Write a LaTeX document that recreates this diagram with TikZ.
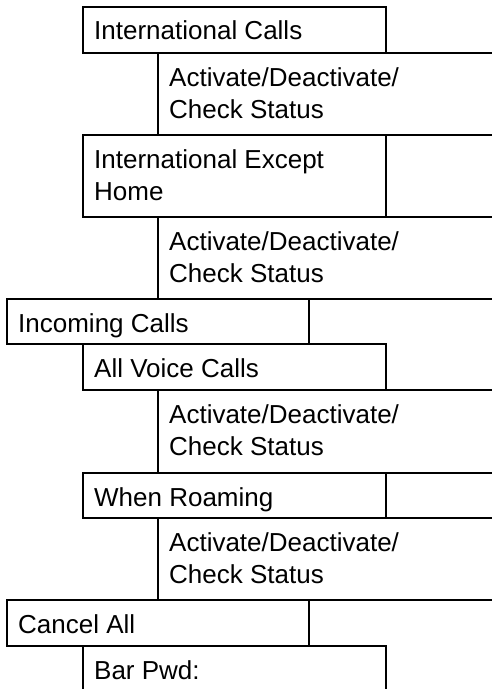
\documentclass[tikz,border=0pt]{standalone}
\usepackage{fontspec}
\setmainfont{Liberation Sans}
\begin{document}
\begin{tikzpicture}[x=1pt,y=-1pt,
  rule/.style={line width=1.1pt,black,line cap=rect},
  cell/.style={anchor=base west,inner sep=0pt,align=left,
    font=\fontsize{26}{32}\selectfont}]
\useasboundingbox (0,0) rectangle (491,689);
% horizontal rules
\draw[rule] (83,7) -- (386,7);
\draw[rule] (83,53) -- (491,53);
\draw[rule] (83,135) -- (491,135);
\draw[rule] (83,217) -- (491,217);
\draw[rule] (7,299) -- (491,299);
\draw[rule] (7,344) -- (386,344);
\draw[rule] (83,390) -- (491,390);
\draw[rule] (83,473) -- (491,473);
\draw[rule] (83,518) -- (491,518);
\draw[rule] (7,600) -- (491,600);
\draw[rule] (7,646) -- (386,646);
% vertical rules
\foreach \a/\b in {7/53,135/217,344/390,473/518,646/689}{
  \draw[rule] (83,\a) -- (83,\b);
  \draw[rule] (386,\a) -- (386,\b);
}
\foreach \a/\b in {53/135,217/299,390/473,518/600}{
  \draw[rule] (158,\a) -- (158,\b);
}
\foreach \a/\b in {299/344,600/646}{
  \draw[rule] (7,\a) -- (7,\b);
  \draw[rule] (309,\a) -- (309,\b);
}
% texts (base anchor = baseline of the last line)
\node[cell] (intl) at (94,39) {International Calls};
\node[cell] (act1) at (169,118) {Activate/Deactivate/\\Check Status};
\node[cell] (intlx) at (94,200) {International Except\\Home};
\node[cell] (act2) at (169,282) {Activate/Deactivate/\\Check Status};
\node[cell] (inc) at (18,332) {Incoming Calls};
\node[cell] (voice) at (94,377) {All Voice Calls};
\node[cell] (act3) at (169,455) {Activate/Deactivate/\\Check Status};
\node[cell] (roam) at (94,506) {When Roaming};
\node[cell] (act4) at (169,583) {Activate/Deactivate/\\Check Status};
\node[cell] (cancel) at (18,633) {Cancel All};
\node[cell] (pwd) at (94,679) {Bar Pwd:};
\end{tikzpicture}
\end{document}
